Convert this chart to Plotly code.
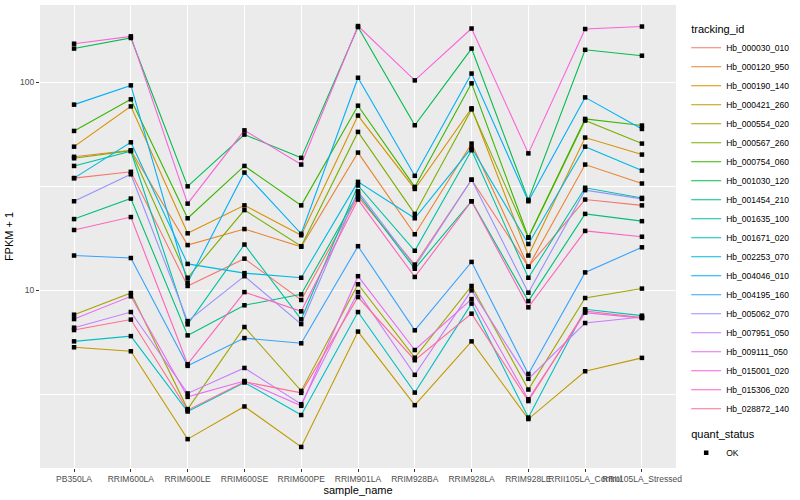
import plotly.graph_objects as go
import math

samples = ["PB350LA", "RRIM600LA", "RRIM600LE", "RRIM600SE", "RRIM600PE",
           "RRIM901LA", "RRIM928BA", "RRIM928LA", "RRIM928LE",
           "RRII105LA_Control", "RRII105LA_Stressed"]

tracking_ids = ["Hb_000030_010", "Hb_000120_950", "Hb_000190_140", "Hb_000421_260",
                "Hb_000554_020", "Hb_000567_260", "Hb_000754_060", "Hb_001030_120",
                "Hb_001454_210", "Hb_001635_100", "Hb_001671_020", "Hb_002253_070",
                "Hb_004046_010", "Hb_004195_160", "Hb_005062_070", "Hb_007951_050",
                "Hb_009111_050", "Hb_015001_020", "Hb_015306_020", "Hb_028872_140"]

colors = ["#F8766D", "#EA8331", "#D89000", "#C09B00", "#A3A500", "#7CAE00", "#39B600",
          "#00BB4E", "#00BF7D", "#00C1A3", "#00BFC4", "#00BAE0", "#00B0F6", "#35A2FF",
          "#9590FF", "#C77CFF", "#E76BF3", "#FA62DB", "#FF62BC", "#FF6C91"]

# FPKM + 1 per sample (order of `samples`)
Hb_000030_010 = [34.6, 37.1, 10.5, 14.2, 8.99, 28.2, 13.3, 34.0, 13.0, 27.3, 25.6]
Hb_000120_950 = [43.8, 47.1, 16.5, 19.7, 16.2, 45.9, 18.6, 50.7, 13.0, 40.2, 32.6]
Hb_000190_140 = [49.0, 76.5, 18.8, 25.6, 18.4, 69.1, 30.7, 74.9, 14.7, 54.2, 44.9]
Hb_000421_260 = [5.33, 5.10, 1.93, 2.77, 1.77, 6.34, 2.81, 5.69, 2.41, 4.09, 4.74]
Hb_000554_020 = [7.64, 9.71, 2.69, 6.67, 3.29, 10.7, 4.75, 10.5, 3.34, 9.19, 10.2]
Hb_000567_260 = [43.1, 46.9, 11.5, 24.3, 16.3, 57.7, 23.3, 74.0, 17.9, 65.4, 50.7]
Hb_000754_060 = [58.3, 82.7, 22.2, 39.6, 25.6, 77.1, 31.4, 98.7, 18.0, 66.6, 61.9]
Hb_001030_120 = [145, 163, 31.6, 56.0, 43.3, 184, 62.1, 145, 27.2, 143, 134]
Hb_001454_210 = [22.0, 27.6, 6.08, 8.48, 9.57, 29.1, 12.7, 26.8, 8.88, 23.3, 21.5]
Hb_001635_100 = [39.6, 46.6, 6.87, 16.6, 7.26, 31.9, 15.5, 47.1, 11.5, 31.1, 27.8]
Hb_001671_020 = [5.69, 6.03, 2.62, 3.61, 2.52, 7.87, 3.23, 8.64, 2.45, 8.11, 7.56]
Hb_002253_070 = [34.6, 51.4, 13.4, 12.1, 11.5, 33.2, 22.2, 48.4, 16.7, 49.0, 37.6]
Hb_004046_010 = [78.0, 96.5, 10.9, 36.8, 18.7, 105, 35.5, 110, 26.8, 84.5, 59.6]
Hb_004195_160 = [14.7, 14.3, 4.34, 5.90, 5.57, 16.3, 6.43, 13.7, 3.97, 12.2, 16.1]
Hb_005062_070 = [26.8, 36.1, 7.12, 11.7, 6.89, 29.9, 13.0, 34.0, 9.75, 30.3, 27.5]
Hb_007951_050 = [6.62, 7.87, 3.20, 4.24, 2.84, 9.81, 3.93, 10.0, 3.76, 6.97, 7.45]
Hb_009111_050 = [7.28, 9.36, 3.08, 3.67, 2.79, 11.7, 5.17, 9.08, 3.00, 7.82, 7.36]
Hb_015001_020 = [153, 166, 26.1, 58.7, 40.2, 186, 102, 181, 45.5, 180, 185]
Hb_015306_020 = [19.5, 22.5, 4.42, 9.81, 7.93, 27.3, 11.6, 26.8, 8.29, 19.3, 18.1]
Hb_028872_140 = [6.45, 7.24, 2.66, 3.64, 3.22, 9.29, 4.62, 7.73, 2.94, 7.96, 7.40]

series = [Hb_000030_010, Hb_000120_950, Hb_000190_140, Hb_000421_260, Hb_000554_020,
          Hb_000567_260, Hb_000754_060, Hb_001030_120, Hb_001454_210, Hb_001635_100,
          Hb_001671_020, Hb_002253_070, Hb_004046_010, Hb_004195_160, Hb_005062_070,
          Hb_007951_050, Hb_009111_050, Hb_015001_020, Hb_015306_020, Hb_028872_140]

y_ticks = [10, 100]
y_tick_labels = ["10", "100"]
y_minor = [10 ** 0.5, 10 ** 1.5]

FONT = "Liberation Sans, Arial, Helvetica, sans-serif"

fig = go.Figure()
for i, (tid, vals, col) in enumerate(zip(tracking_ids, series, colors)):
    fig.add_trace(go.Scatter(
        x=samples, y=vals, mode="lines", name=tid,
        line=dict(color=col, width=1.1),
        legendgroup="tracking_id",
        legendgrouptitle=dict(text="tracking_id", font=dict(size=11, color="black")) if i == 0 else None,
        hoverinfo="x+y+name",
    ))

all_x = [s for vals in series for s in samples]
all_y = [v for vals in series for v in vals]
fig.add_trace(go.Scatter(
    x=all_x, y=all_y, mode="markers", name="OK",
    marker=dict(symbol="square", size=4.5, color="black"),
    legendgroup="quant_status",
    legendgrouptitle=dict(text="quant_status", font=dict(size=11, color="black")),
))

lo = math.log10(min(all_y))
hi = math.log10(max(all_y))
pad = 0.05 * (hi - lo)

fig.update_layout(
    width=800, height=500,
    margin=dict(l=40, r=117, t=5, b=32),
    paper_bgcolor="white", plot_bgcolor="#EBEBEB",
    font=dict(family=FONT, size=9, color="#4D4D4D"),
    legend=dict(x=1.016, y=0.98, xanchor="left", yanchor="top",
                font=dict(size=8.5, color="black"), tracegroupgap=6,
                bgcolor="rgba(0,0,0,0)"),
    showlegend=True,
)
fig.update_xaxes(
    type="category", categoryorder="array", categoryarray=samples,
    range=[-0.6, len(samples) - 0.4], tickangle=0,
    showgrid=True, gridcolor="white", gridwidth=1.2, zeroline=False,
    ticks="outside", ticklen=3, tickcolor="#333333", tickwidth=1,
    tickfont=dict(size=8.5, color="#4D4D4D"),
    title=dict(text="sample_name", font=dict(size=11, color="black"), standoff=2),
)
fig.update_yaxes(
    type="log", range=[lo - pad, hi + pad],
    tickvals=y_ticks, ticktext=y_tick_labels,
    showgrid=True, gridcolor="white", gridwidth=1.2, zeroline=False,
    ticks="outside", ticklen=3, tickcolor="#333333", tickwidth=1,
    tickfont=dict(size=8.5, color="#4D4D4D"),
    minor=dict(tickvals=y_minor, showgrid=True, gridcolor="white", gridwidth=0.6, ticks=""),
    title=dict(text="FPKM + 1", font=dict(size=11, color="black"), standoff=4),
)

fig.write_html("out.html", config={"displayModeBar": False},
               post_script="document.body.style.margin='0px';document.body.style.overflow='hidden';")
